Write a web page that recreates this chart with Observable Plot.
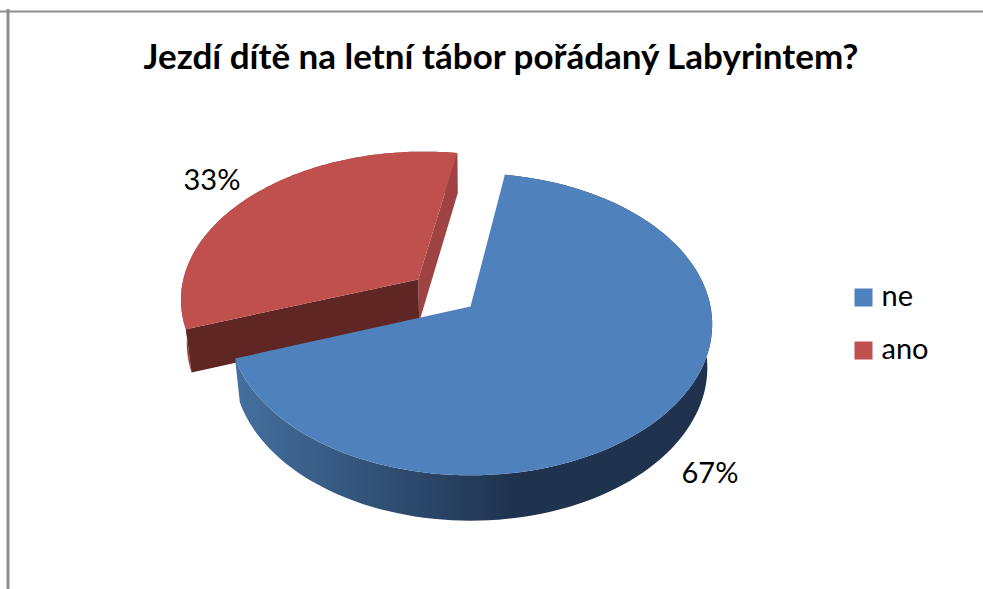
<!DOCTYPE html>
<html>
<head>
<meta charset="utf-8">
<style>html,body{margin:0;padding:0;background:#fff}svg{display:block}</style>
<script src="https://cdn.jsdelivr.net/npm/d3@7"></script>
<script src="https://cdn.jsdelivr.net/npm/@observablehq/plot@0.6"></script>
</head>
<body>
<script>
const titleText = "Jezdí dítě na letní tábor pořádaný Labyrintem?";
const categories = ["ne", "ano"];
const values = [67, 33];
const percentLabels = ["67%", "33%"];
const colors = ["#4f81bd", "#c0504d"];
const redRight = "#9e4341", redFront = "#5f2624", redOuter = "#93403e";

// perspective model of the tilted pie
const startAngle = 9.2 * Math.PI / 180;
const k = 0.118, explode = [0, 0.29], depth = 43 / 148.9, shrink = 0.98;

const arcs = d3.pie().sort(null).startAngle(startAngle).endAngle(startAngle + 2 * Math.PI)(values);
const project = (i, r, a, bottom) => {
  const mid = (arcs[i].startAngle + arcs[i].endAngle) / 2;
  const u = r * Math.sin(a) + explode[i] * Math.sin(mid);
  const v = r * Math.cos(a) + explode[i] * Math.cos(mid);
  const w = 1 + k * v;
  return bottom ? {x: shrink * u / w, y: shrink * v / w - depth / w} : {x: u / w, y: v / w};
};
const rim = (i, bottom, from = arcs[i].startAngle, to = arcs[i].endAngle) =>
  d3.range(121).map(t => project(i, 1, from + (to - from) * t / 120, bottom));
const apex = (i, bottom) => project(i, 0, 0, bottom);

const topFace = i => [apex(i, false), ...rim(i, false)].map(p => ({...p, category: categories[i]}));
const wall = i => [...rim(i, false), ...rim(i, true).reverse()];
const cut = (i, a) => [apex(i, false), project(i, 1, a, false), project(i, 1, a, true), apex(i, true)];

const noStroke = {x: "x", y: "y", stroke: "none"};
const gradient = () => d3.create("svg:defs").html(`
  <linearGradient id="blueWall" x1="0" x2="1" y1="0" y2="0">
    <stop offset="0" stop-color="#44709f"/>
    <stop offset="0.58" stop-color="#1f334f"/>
    <stop offset="1" stop-color="#1f334f"/>
  </linearGradient>`).node();

const legendItems = categories.map((c, i) => ({c, i}));

const chart = Plot.plot({
  width: 983, height: 589,
  margin: 0,
  x: {domain: [-1, 1], range: [230, 710], axis: null},
  y: {domain: [-1, 1], range: [454.9, 157.1], axis: null},
  color: {domain: categories, range: colors},
  style: {fontFamily: "Lato, sans-serif", background: "#fff", color: "#000"},
  marks: [
    gradient,
    Plot.frame({anchor: "top", insetTop: 11, stroke: "#8e8e8e", strokeWidth: 2}),
    Plot.frame({anchor: "left", insetLeft: 7.5, insetTop: 10, stroke: "#8e8e8e", strokeWidth: 3}),
    Plot.line(wall(1), {...noStroke, fill: redOuter}),
    Plot.line(cut(1, arcs[1].endAngle), {...noStroke, fill: redRight}),
    Plot.line(cut(1, arcs[1].startAngle), {...noStroke, fill: redFront}),
    Plot.line(topFace(1), {...noStroke, fill: "category"}),
    Plot.line(wall(0), {...noStroke, fill: "url(#blueWall)"}),
    Plot.line(topFace(0), {...noStroke, fill: "category"}),
    Plot.text([titleText], {text: d => d, frameAnchor: "top-left", dx: 143, dy: 57, textAnchor: "start", lineAnchor: "middle", fontSize: 35, fontWeight: 700, fill: "#000"}),
    Plot.text([percentLabels[1]], {text: d => d, frameAnchor: "top-left", dx: 183, dy: 180, textAnchor: "start", lineAnchor: "middle", fontSize: 29, fill: "#000"}),
    Plot.text([percentLabels[0]], {text: d => d, frameAnchor: "top-left", dx: 681, dy: 473, textAnchor: "start", lineAnchor: "middle", fontSize: 29, fill: "#000"}),
    ...legendItems.map(({c, i}) => Plot.dot([c], {frameAnchor: "top-left", dx: 863, dy: 297 + 53 * i, symbol: "square", r: 10.15, fill: d => d, stroke: "none"})),
    ...legendItems.map(({c, i}) => Plot.text([c], {text: d => d, frameAnchor: "top-left", dx: 881, dy: 296 + 53 * i, textAnchor: "start", lineAnchor: "middle", fontSize: 29, fill: "#000"}))
  ]
});
document.body.appendChild(chart);
</script>
</body>
</html>
